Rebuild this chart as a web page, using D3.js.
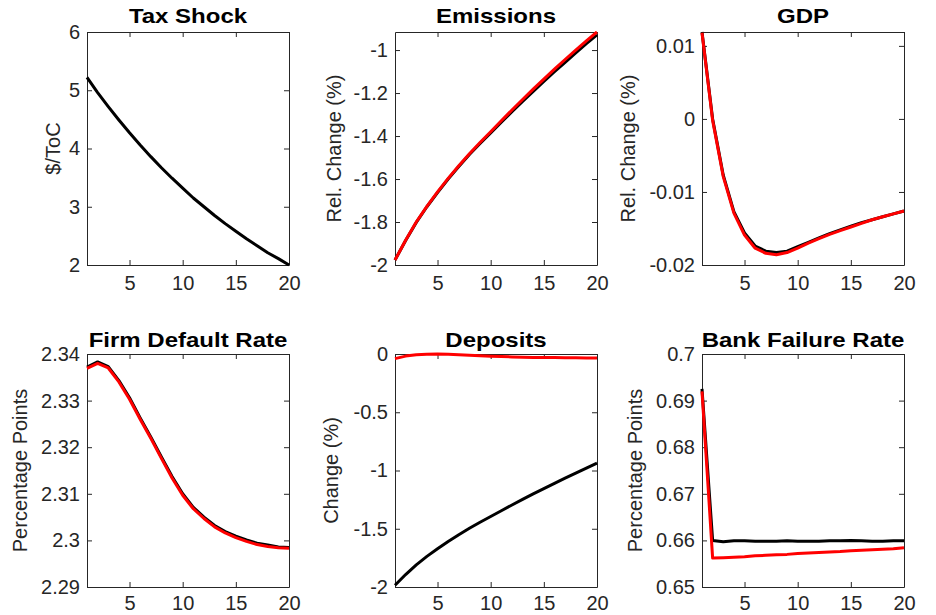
<!DOCTYPE html>
<html>
<head>
<meta charset="utf-8">
<script src="https://cdn.jsdelivr.net/npm/d3@7"></script>
<style>
  body { margin: 0; background: #fff; }
  svg text { font-family: "Liberation Sans", Arial, sans-serif; }
</style>
</head>
<body>
<svg id="viz" width="936" height="615"></svg>
<script>
// data
const periods = [1, 2, 3, 4, 5, 6, 7, 8, 9, 10, 11, 12, 13, 14, 15, 16, 17, 18, 19, 20]
const xTicks = [5, 10, 15, 20]

const taxShock = [5.22, 4.96, 4.72, 4.49, 4.27, 4.06, 3.86, 3.67, 3.49, 3.32, 3.15, 3.00, 2.85, 2.71, 2.58, 2.45, 2.33, 2.21, 2.11, 2.00]

const emissionsBlack = [-1.977, -1.886, -1.802, -1.729, -1.663, -1.600, -1.542, -1.486, -1.435, -1.386, -1.336, -1.287, -1.239, -1.192, -1.146, -1.101, -1.057, -1.013, -0.970, -0.929]
const emissionsRed = [-1.977, -1.885, -1.800, -1.727, -1.660, -1.597, -1.538, -1.482, -1.430, -1.380, -1.329, -1.279, -1.230, -1.182, -1.135, -1.089, -1.044, -1.000, -0.957, -0.916]

const gdpBlack = [0.0119, 0.0000, -0.0077, -0.0127, -0.0156, -0.0174, -0.0181, -0.0183, -0.0181, -0.0175, -0.0169, -0.0163, -0.0157, -0.0152, -0.0147, -0.0142, -0.0138, -0.0134, -0.0130, -0.0126]
const gdpRed = [0.0118, -0.0002, -0.0079, -0.0129, -0.0159, -0.0177, -0.0184, -0.0186, -0.0183, -0.0177, -0.0170, -0.0164, -0.0158, -0.0153, -0.0148, -0.0143, -0.0138, -0.0134, -0.0130, -0.0126]

const firmBlack = [2.3372, 2.3383, 2.3373, 2.3343, 2.3306, 2.3263, 2.3222, 2.3179, 2.3137, 2.3100, 2.3071, 2.3050, 2.3032, 2.3019, 2.3009, 2.3001, 2.2994, 2.2990, 2.2986, 2.2985]
const firmRed = [2.3369, 2.3380, 2.3370, 2.3340, 2.3303, 2.3260, 2.3219, 2.3176, 2.3134, 2.3097, 2.3068, 2.3047, 2.3029, 2.3016, 2.3006, 2.2998, 2.2991, 2.2987, 2.2984, 2.2983]

const depositsBlack = [-1.985, -1.893, -1.810, -1.737, -1.671, -1.609, -1.551, -1.496, -1.444, -1.395, -1.345, -1.296, -1.248, -1.201, -1.155, -1.110, -1.066, -1.022, -0.979, -0.937]
const depositsRed = [-0.040, -0.018, -0.007, -0.002, 0.000, -0.003, -0.007, -0.011, -0.015, -0.019, -0.022, -0.025, -0.027, -0.029, -0.030, -0.031, -0.032, -0.033, -0.034, -0.035]

const bankBlack = [0.6925, 0.6600, 0.6597, 0.6599, 0.6599, 0.6598, 0.6598, 0.6598, 0.6599, 0.6598, 0.6598, 0.6598, 0.6599, 0.6599, 0.6600, 0.6599, 0.6598, 0.6598, 0.6599, 0.6599]
const bankRed = [0.6920, 0.6562, 0.6563, 0.6564, 0.6565, 0.6567, 0.6568, 0.6569, 0.6570, 0.6572, 0.6573, 0.6574, 0.6575, 0.6576, 0.6578, 0.6579, 0.6580, 0.6581, 0.6582, 0.6584]

const titles = ["Tax Shock", "Emissions", "GDP", "Firm Default Rate", "Deposits", "Bank Failure Rate"]
const yLabels = ["$/ToC", "Rel. Change (%)", "Rel. Change (%)", "Percentage Points", "Change (%)", "Percentage Points"]
const yDomains = [[2, 6], [-2, -0.916], [-0.02, 0.0119], [2.29, 2.34], [-2, 0], [0.65, 0.7]]
const yTicks = [
    [2, 3, 4, 5, 6],
    [-2, -1.8, -1.6, -1.4, -1.2, -1],
    [-0.02, -0.01, 0, 0.01],
    [2.29, 2.3, 2.31, 2.32, 2.33, 2.34],
    [-2, -1.5, -1, -0.5, 0],
    [0.65, 0.66, 0.67, 0.68, 0.69, 0.7]
]
const blackSeries = [taxShock, emissionsBlack, gdpBlack, firmBlack, depositsBlack, bankBlack]
const redSeries = [null, emissionsRed, gdpRed, firmRed, depositsRed, bankRed]

// layout (px)
const COLS = [87, 395, 702]
const PW = 202
const ROWS = [{top: 32, bottom: 265, title: 23, xlab: 290}, {top: 354, bottom: 587, title: 347, xlab: 610}]
const YLAB_X = [60, 341, 635, 27, 338, 642]
const TICK = 5
const AXIS_COL = "#262626"

var svg = d3.select("svg#viz")
svg.append("rect").attr("width", 936).attr("height", 615).attr("fill", "#fff")

const fmt = d => String(+d.toFixed(4))

titles.forEach((title, i) => {
    const col = i % 3, row = ROWS[Math.floor(i / 3)]
    const left = COLS[col], right = left + PW

    const x = d3.scaleLinear().domain([1, 20]).range([left, right])
    const y = d3.scaleLinear().domain(yDomains[i]).range([row.bottom, row.top])

    const g = svg.append("g").attr("class", "panel")

    // box + inward ticks on all four sides
    const axes = [
        d3.axisBottom(x).tickValues(xTicks).tickFormat(fmt),
        d3.axisTop(x).tickValues(xTicks).tickFormat(""),
        d3.axisLeft(y).tickValues(yTicks[i]).tickFormat(fmt),
        d3.axisRight(y).tickValues(yTicks[i]).tickFormat("")
    ]
    const pos = [`translate(0,${row.bottom})`, `translate(0,${row.top})`, `translate(${left},0)`, `translate(${right},0)`]
    axes.forEach((ax, k) => {
        const a = g.append("g")
            .attr("transform", pos[k])
            .call(ax.tickSizeInner(-TICK).tickSizeOuter(0).tickPadding(k == 0 ? 10 : 7))
        a.select(".domain").attr("stroke", AXIS_COL)
        a.selectAll(".tick line").attr("stroke", AXIS_COL)
        a.selectAll(".tick text").attr("fill", AXIS_COL).attr("font-size", 20)
            .attr("font-family", '"Liberation Sans", Arial, sans-serif')
        if (k == 0) a.selectAll(".tick text").attr("dy", null).attr("y", row.xlab - row.bottom)
    })

    const line = d3.line().x((d, j) => x(periods[j])).y(d => y(d))

    g.append("path").datum(blackSeries[i])
        .attr("d", line).attr("fill", "none")
        .attr("stroke", "#000").attr("stroke-width", 3)
        .attr("stroke-linejoin", "round")
    if (redSeries[i]) {
        g.append("path").datum(redSeries[i])
            .attr("d", line).attr("fill", "none")
            .attr("stroke", "#ff0000").attr("stroke-width", 3)
            .attr("stroke-linejoin", "round")
    }

    // title
    g.append("text")
        .attr("transform", `translate(${(left + right) / 2},${row.title}) scale(1.2,1)`)
        .attr("text-anchor", "middle")
        .attr("font-size", 20).attr("font-weight", "bold").attr("fill", "#000")
        .text(title)

    // y label
    g.append("text")
        .attr("transform", `translate(${YLAB_X[i]},${(row.top + row.bottom) / 2}) rotate(-90)`)
        .attr("text-anchor", "middle")
        .attr("font-size", 20).attr("fill", AXIS_COL)
        .text(yLabels[i])
})
</script>
</body>
</html>
